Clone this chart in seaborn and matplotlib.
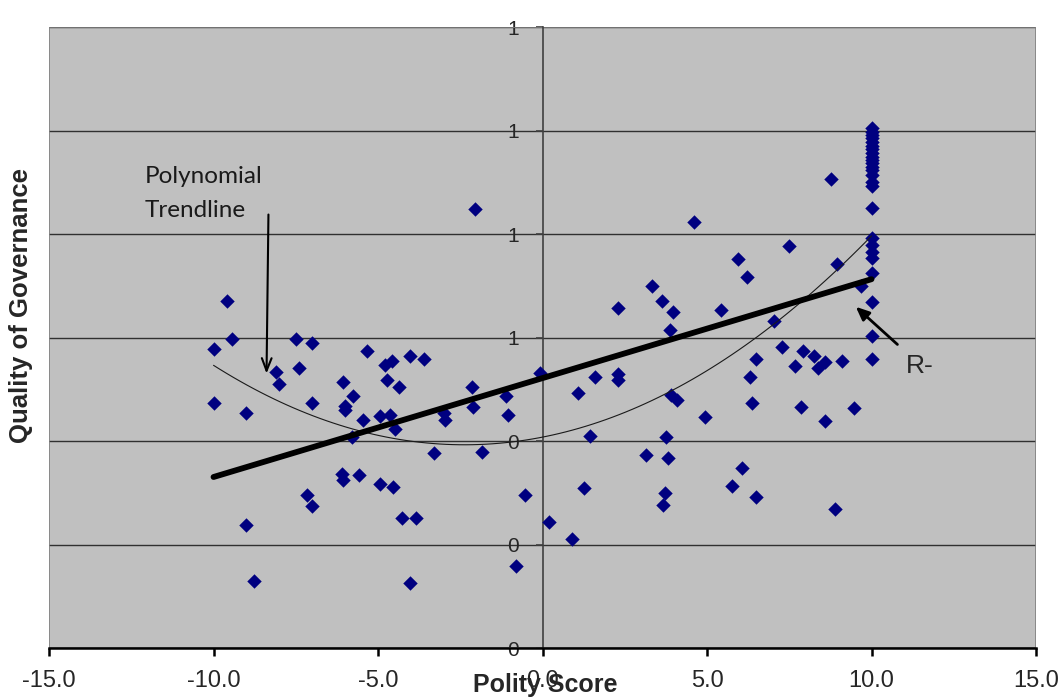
import numpy as np
import pandas as pd
import seaborn as sns
import matplotlib.pyplot as plt
from matplotlib.patches import Rectangle
from matplotlib.ticker import FuncFormatter

# values (polity score vs quality of governance)
# the column at 10 is a dense stack, so several markers sit on top of each other there
polity = [-10.0, -10.0, -9.6, -9.45, -9.0, -9.0, -8.77, -8.1, -8.0, -7.5,
          -7.4, -7.0, -7.0, -7.17, -7.0, -6.05, -6.0, -6.0, -6.1, -6.05,
          -5.75, -5.8, -5.58, -5.47, -5.35, -4.95, -4.95, -4.78, -4.58, -4.73,
          -4.65, -4.55, -4.48, -4.37, -4.26, -4.03, -4.04, -3.86, -3.59, -3.29,
          -3.0, -2.95, -2.14, -2.12, -2.04, -1.85, -1.12, -1.05, -0.82, -0.52,
          -0.08, 0.21, 0.9, 1.08, 1.26, 1.43, 1.59, 2.3, 2.3, 2.3,
          3.15, 3.33, 3.62, 3.67, 3.72, 3.74, 3.81, 3.87, 3.89, 3.97,
          4.09, 4.6, 4.95, 5.41, 5.77, 5.94, 6.07, 6.2, 6.3, 6.37,
          6.5, 6.5, 7.05, 7.29, 7.49, 7.66, 7.86, 7.92, 8.25, 8.37,
          8.6, 8.6, 8.77, 8.88, 8.94, 9.11, 9.46, 9.67,
          10, 10, 10, 10, 10, 10, 10, 10, 10, 10, 10, 10, 10, 10, 10, 10, 10,
          10, 10, 10, 10, 10, 10, 10, 10]
governance = [0.578, 0.474, 0.670, 0.598, 0.455, 0.237, 0.129, 0.534, 0.511, 0.597,
              0.542, 0.589, 0.473, 0.296, 0.275, 0.515, 0.468, 0.460, 0.336, 0.325,
              0.487, 0.408, 0.335, 0.440, 0.574, 0.448, 0.317, 0.547, 0.555, 0.517,
              0.450, 0.311, 0.423, 0.504, 0.251, 0.564, 0.125, 0.251, 0.558, 0.376,
              0.455, 0.440, 0.505, 0.466, 0.848, 0.379, 0.487, 0.450, 0.159, 0.296,
              0.532, 0.243, 0.210, 0.492, 0.309, 0.410, 0.524, 0.529, 0.518, 0.658,
              0.373, 0.700, 0.671, 0.276, 0.300, 0.408, 0.367, 0.614, 0.489, 0.650,
              0.479, 0.823, 0.447, 0.654, 0.314, 0.752, 0.347, 0.717, 0.524, 0.474,
              0.558, 0.292, 0.631, 0.582, 0.777, 0.544, 0.466, 0.573, 0.565, 0.542,
              0.553, 0.439, 0.906, 0.269, 0.743, 0.555, 0.463, 0.700,
              1.004, 0.991, 0.978, 0.964, 0.949, 0.937, 0.924, 0.893, 0.850, 0.792,
              0.779, 0.766, 0.753, 0.724, 0.669, 0.602, 0.558,
              0.998, 0.985, 0.971, 0.957, 0.943, 0.930, 0.915, 0.900]

x_ticks = [-15, -10, -5, 0, 5, 10, 15]
y_ticks = [0, 0.2, 0.4, 0.6, 0.8, 1.0, 1.2]

df = pd.DataFrame({"Polity Score": polity, "Quality of Governance": governance})

sns.set_style("white")
plt.rcParams['font.family'] = ['Liberation Sans', 'DejaVu Sans']

fig = plt.figure(figsize=(10.59, 6.98), dpi=100)
ax = fig.add_axes([0.0463, 0.0716, 0.932, 0.8897])
ax.set_facecolor('#c0c0c0')

# points
sns.scatterplot(data=df, x="Polity Score", y="Quality of Governance", marker='D',
                color='#000080', s=54, linewidth=0, ax=ax, zorder=3)

# trendlines (Excel style)
sns.regplot(data=df, x="Polity Score", y="Quality of Governance", order=2,
            scatter=False, ci=None, truncate=True, ax=ax,
            line_kws={'color': '#1a1a1a', 'lw': 0.8, 'zorder': 4})
sns.regplot(data=df, x="Polity Score", y="Quality of Governance", order=1,
            scatter=False, ci=None, truncate=True, ax=ax,
            line_kws={'color': 'black', 'lw': 4.2, 'zorder': 5})

ax.set_xlim(-15, 15)
ax.set_ylim(0, 1.2)
ax.set_xticks(x_ticks)
ax.set_yticks(y_ticks)
ax.xaxis.set_major_formatter(FuncFormatter(lambda v, p: f"{v:.1f}"))
ax.yaxis.set_major_formatter(FuncFormatter(lambda v, p: f"{v:.0f}"))

ax.yaxis.grid(True, color='#303030', lw=1)
ax.xaxis.grid(False)
ax.set_axisbelow(True)

# plot area border
ax.add_patch(Rectangle((0, 0), 1, 1, transform=ax.transAxes, fill=False,
                       edgecolor='#808080', lw=1.2, zorder=1))

ax.spines['left'].set_position(('data', 0))
ax.spines['left'].set_color('#404040')
ax.spines['left'].set_linewidth(1.2)
ax.spines['bottom'].set_color('black')
ax.spines['bottom'].set_linewidth(1.8)
ax.spines['top'].set_visible(False)
ax.spines['right'].set_visible(False)

ax.tick_params(axis='x', direction='out', length=6, width=1.8, color='black',
               labelsize=17, pad=10, bottom=True)
ax.tick_params(axis='y', direction='out', length=5, width=1.2, color='#404040',
               labelsize=15, pad=12, left=True)

ax.set_xlabel("")
ax.set_ylabel("")
fig.text(0.515, 0.008, "Polity Score", fontsize=18, fontweight='bold',
         ha='center', va='baseline')
fig.text(0.02, 0.563, "Quality of Governance", fontsize=18.5, fontweight='bold',
         rotation=90, ha='center', va='center')

# annotations
ax.annotate("", xy=(-8.39, 0.525), xytext=(-8.33, 0.843),
            arrowprops=dict(arrowstyle='->,head_length=0.9,head_width=0.35',
                            color='black', lw=1.5), zorder=6)
ax.text(-12.1, 0.931, "Polynomial\nTrendline", fontsize=17.5, family=['Lato', 'DejaVu Sans'],
        color='#1a1a1a', ha='left', va='top', linespacing=1.75)

ax.annotate("", xy=(9.46, 0.663), xytext=(10.85, 0.583),
            arrowprops=dict(arrowstyle='-|>,head_length=0.8,head_width=0.35',
                            color='black', lw=2), zorder=6)
ax.text(11.03, 0.531, "R-", fontsize=19, ha='left', va='baseline')

fig.savefig("out.png", dpi=100)
